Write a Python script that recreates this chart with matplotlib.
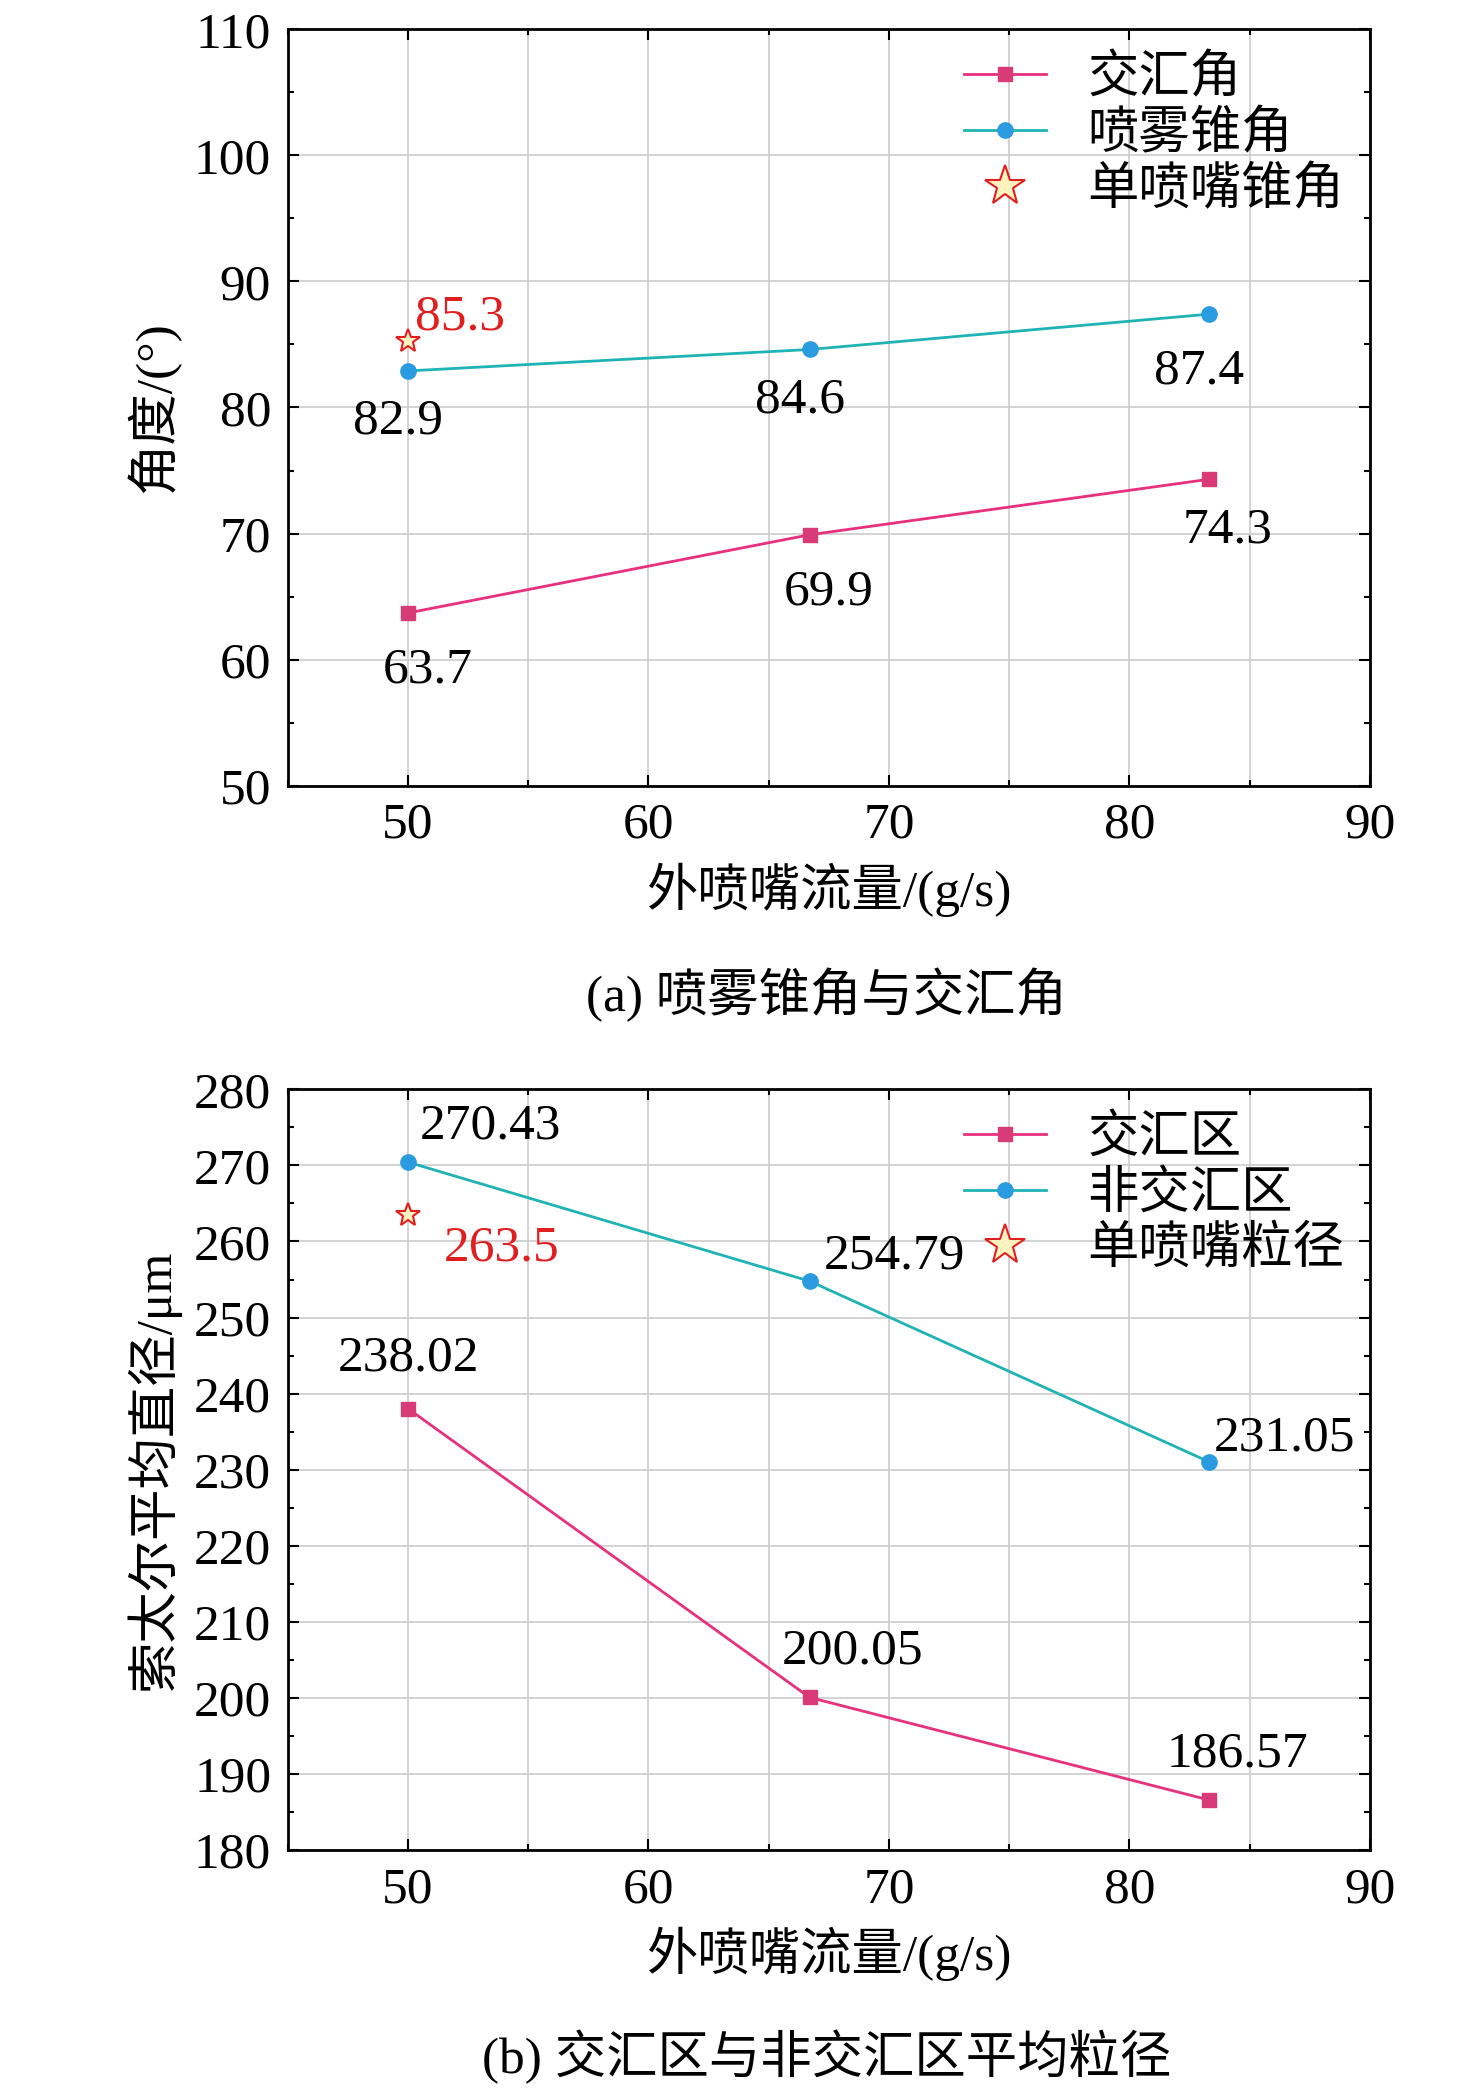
import matplotlib
matplotlib.use("Agg")
import matplotlib.pyplot as plt
from matplotlib.ticker import MultipleLocator

plt.rcParams['font.family'] = ['Liberation Serif', 'Noto Sans CJK SC']
plt.rcParams['mathtext.fontset'] = 'stix'

flow = [50, 66.7, 83.3]
meet_angle = [63.7, 69.9, 74.3]
cone_angle = [82.9, 84.6, 87.4]
single_angle = 85.3
meet_d = [238.02, 200.05, 186.57]
non_meet_d = [270.43, 254.79, 231.05]
single_d = 263.5

pink = '#E8307F'
pink_m = '#D93A78'
cyan = '#1FB3B5'
blue_m = '#2A9BE0'
fs = 37

fig = plt.figure(figsize=(14.76, 20.95), dpi=100)
ax1 = fig.add_axes([0.195, 0.625, 0.733, 0.361])
ax2 = fig.add_axes([0.195, 0.117, 0.733, 0.363])


def style(ax, ylo, yhi, ystep):
    ax.set_xlim(45, 90)
    ax.set_ylim(ylo, yhi)
    ax.xaxis.set_major_locator(MultipleLocator(10))
    ax.xaxis.set_minor_locator(MultipleLocator(5))
    ax.yaxis.set_major_locator(MultipleLocator(ystep))
    ax.yaxis.set_minor_locator(MultipleLocator(ystep / 2))
    ax.grid(True, which='major', color='#cccccc', lw=1.2)
    ax.grid(True, which='minor', axis='x', color='#cccccc', lw=1.2)
    ax.tick_params(which='both', direction='in', top=True, right=True,
                   labelsize=fs, width=1.5)
    ax.tick_params(which='major', length=8, pad=12)
    ax.tick_params(which='minor', length=4)
    for s in ax.spines.values():
        s.set_linewidth(2)
    ax.set_xlabel('外喷嘴流量/(g/s)', fontsize=fs, labelpad=10)


# (a)
ax1.plot(flow, meet_angle, '-s', color=pink, mfc=pink_m, mec=pink_m, ms=10, lw=2, label='交汇角')
ax1.plot(flow, cone_angle, '-o', color=cyan, mfc=blue_m, mec=blue_m, ms=11, lw=2, label='喷雾锥角')
ax1.plot([50], [single_angle], '*', ms=18, mfc='#FFF3C0', mec='#E02020', mew=1.5, ls='none', label='单喷嘴锥角')
style(ax1, 50, 110, 10)
ax1.set_ylabel('角度/(°)', fontsize=fs, labelpad=10)
leg = ax1.legend(loc='upper right', fontsize=fs, frameon=False, handlelength=1.6,
                 borderaxespad=0.1, labelspacing=0.15, markerscale=1.0)
leg.legend_handles[2].set_markersize(30)
for x, y, dy in zip(flow, meet_angle, [-5.5, -5.5, -5]):
    ax1.text(x + 0.8, y + dy, f'{y}', fontsize=fs, ha='center')
for x, y, dy in zip(flow, cone_angle, [-5, -5, -5.5]):
    ax1.text(x - 0.4, y + dy, f'{y}', fontsize=fs, ha='center')
ax1.text(50.3, 86.2, f'{single_angle}', fontsize=fs, color='#E02020')
fig.text(0.56, 0.525, '(a) 喷雾锥角与交汇角', fontsize=fs, ha='center', va='center')

# (b)
ax2.plot(flow, meet_d, '-s', color=pink, mfc=pink_m, mec=pink_m, ms=10, lw=2, label='交汇区')
ax2.plot(flow, non_meet_d, '-o', color=cyan, mfc=blue_m, mec=blue_m, ms=11, lw=2, label='非交汇区')
ax2.plot([50], [single_d], '*', ms=18, mfc='#FFF3C0', mec='#E02020', mew=1.5, ls='none', label='单喷嘴粒径')
style(ax2, 180, 280, 10)
ax2.set_ylabel('索太尔平均直径/μm', fontsize=fs, labelpad=10)
leg = ax2.legend(loc='upper right', fontsize=fs, frameon=False, handlelength=1.6,
                 borderaxespad=0.1, labelspacing=0.15)
leg.legend_handles[2].set_markersize(30)
ax2.text(50.5, 273.5, '270.43', fontsize=fs)
ax2.text(67.3, 256.5, '254.79', fontsize=fs)
ax2.text(83.5, 232.5, '231.05', fontsize=fs)
ax2.text(50, 243, '238.02', fontsize=fs, ha='center')
ax2.text(68.5, 204.5, '200.05', fontsize=fs, ha='center')
ax2.text(84.5, 191, '186.57', fontsize=fs, ha='center')
ax2.text(51.5, 257.5, f'{single_d}', fontsize=fs, color='#E02020')
fig.text(0.56, 0.018, '(b) 交汇区与非交汇区平均粒径', fontsize=fs, ha='center', va='center')

fig.savefig('out.png', dpi=100)
